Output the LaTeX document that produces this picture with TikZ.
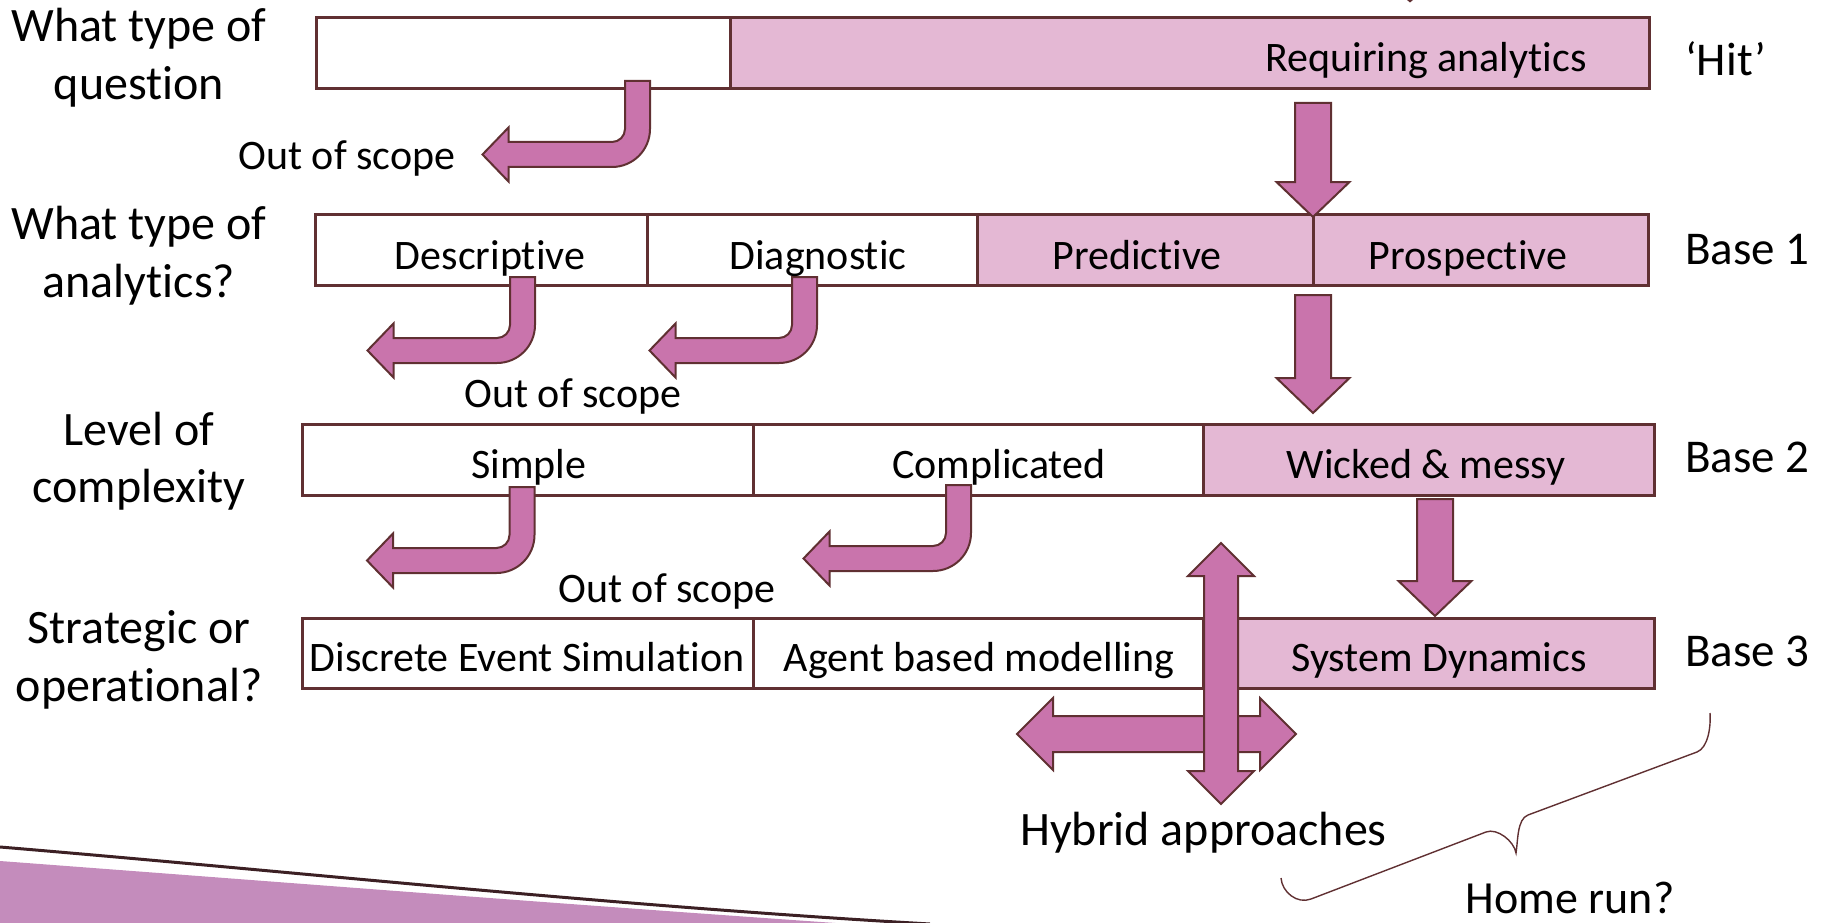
\documentclass[tikz,border=0pt]{standalone}
\usepackage{fontspec}
\setmainfont[Ligatures={NoCommon,NoRequired,NoContextual}]{Carlito}
\usetikzlibrary{calc}

\definecolor{edge}{HTML}{603032}
\definecolor{cellpink}{HTML}{E4B8D4}
\definecolor{arrowfill}{HTML}{C974AC}
\definecolor{swoosh}{HTML}{C48CBC}
\definecolor{swooshline}{HTML}{3C2024}

\tikzset{
  cell/.style={draw=edge, line width=3pt, inner sep=0pt, outer sep=0pt,
               anchor=north west, minimum height=71pt},
  hitcell/.style={cell, fill=cellpink},
  celltext/.style={font=\fontsize{42}{50}\selectfont, anchor=base, inner sep=0pt},
  sidetext/.style={font=\fontsize{48}{58}\selectfont, anchor=base, inner sep=0pt},
  basetext/.style={font=\fontsize{47}{56}\selectfont, anchor=base west, inner sep=0pt},
  blockarrow/.style={draw=edge, fill=arrowfill, line width=2pt, line join=miter},
  bracestyle/.style={draw=edge, line width=1.4pt},
  % bent "out of scope" arrow: origin at the top centre of its vertical shaft
  pics/bentleft/.style={code={
    \draw[blockarrow] (-12.5,0) -- (12.5,0) -- (12.5,48)
      .. controls (12.5,69) and (-4.5,86) .. (-25.5,86)
      -- (-129,86) -- (-129,100.5) -- (-155,73.5) -- (-129,46.5) -- (-129,61)
      -- (-25.5,61) .. controls (-18.3,61) and (-12.5,55.2) .. (-12.5,48) -- cycle;
  }},
}

% straight downward block arrow from a tail point to a tip point
\newcommand\blockdown[2]{%
  \draw[blockarrow] let \p1=#1, \p2=#2 in
    (\x1-18pt,\y1) -- (\x1+18pt,\y1) -- (\x1+18pt,\y2+35pt) -- (\x1+36.5pt,\y2+35pt)
    -- (\x1,\y2) -- (\x1-36.5pt,\y2+35pt) -- (\x1-18pt,\y2+35pt) -- cycle;}

\begin{document}
\begin{tikzpicture}[x=1pt, y=-1pt]
\useasboundingbox (0,0) rectangle (1829,923);

% ---- bottom-left decoration ----
\fill[swoosh] (0,861) .. controls (280,882) and (560,904) .. (850,924) -- (0,924) -- cycle;
\draw[swooshline, line width=3pt] (0,847) .. controls (300,872) and (600,905) .. (930,924);

% ---- rows of cells ----
\node[cell, minimum width=414pt] (qout) at (316,18) {};
\node[hitcell, minimum width=919pt] (qin) at (730,18) {};

\node[cell, minimum width=332pt] (desc) at (315,214) {};
\node[cell, minimum width=330pt] (diag) at (647,214) {};
\node[hitcell, minimum width=336pt] (pred) at (977,214) {};
\node[hitcell, minimum width=335pt] (pros) at (1313,214) {};

\node[cell, minimum width=451pt] (simp) at (302,424) {};
\node[cell, minimum width=450pt] (comp) at (753,424) {};
\node[hitcell, minimum width=451pt] (wick) at (1203,424) {};

\node[cell, minimum width=451pt, minimum height=70pt] (des) at (302,618) {};
\node[cell, minimum width=450pt, minimum height=70pt] (abm) at (753,618) {};
\node[hitcell, minimum width=451pt, minimum height=70pt] (sd) at (1203,618) {};

% small tip entering from above
\fill[edge] (1407,0) -- (1413,0) -- (1410,2.5) -- cycle;

% ---- hybrid double arrows ----
\coordinate (hybh) at (1156.5,734);
\coordinate (hybv) at (1221,673.5);
\begin{scope}[shift={(hybh)}]
  \draw[blockarrow] (-139.5,0) -- (-103.5,-36) -- (-103.5,-18) -- (103.5,-18) -- (103.5,-36)
    -- (139.5,0) -- (103.5,36) -- (103.5,18) -- (-103.5,18) -- (-103.5,36) -- cycle;
\end{scope}
\begin{scope}[shift={(hybv)}]
  \draw[blockarrow] (0,-130.5) -- (33,-97.5) -- (17,-97.5) -- (17,97.5) -- (33,97.5)
    -- (0,130.5) -- (-33,97.5) -- (-17,97.5) -- (-17,-97.5) -- (-33,-97.5) -- cycle;
\end{scope}

% ---- downward arrows along the hit path ----
\coordinate (a1tail) at ($(pros.north west |- qin.south)+(0,14)$);
\coordinate (a1tip)  at ($(pros.north west)+(0,3)$);
\coordinate (a2tail) at ($(pros.south west)+(0,10)$);
\coordinate (a2tip)  at ($(a2tail |- wick.north)+(0,-11)$);
\coordinate (a3tail) at ($(wick.south)+(6.5,4)$);
\coordinate (a3tip)  at ($(sd.north)+(6.5,-2)$);
\blockdown{(a1tail)}{(a1tip)}
\blockdown{(a2tail)}{(a2tip)}
\blockdown{(a3tail)}{(a3tip)}

% ---- out-of-scope bent arrows ----
\pic at ($(qout.south)+(114.5,-8)$) {bentleft};
\pic at ($(desc.south)+(41.5,-8)$) {bentleft};
\pic at ($(diag.south)+(-7.5,-8)$) {bentleft};
\pic at ($(simp.south)+(-5.5,-8)$) {bentleft};
\pic at ($(comp.south)+(-19.5,-10)$) {bentleft};

% ---- cell texts ----
\node[celltext, anchor=base east] (treq) at (1587,72) {Requiring analytics};
\node[celltext] (tdesc) at (490,269) {Descriptive};
\node[celltext] (tdiag) at (818,269) {Diagnostic};
\node[celltext] (tpred) at (1137,269) {Predictive};
\node[celltext] (tpros) at (1468,269) {Prospective};
\node[celltext] (tsimp) at (529,478) {Simple};
\node[celltext] (tcomp) at (999,478) {Complicated};
\node[celltext] (twick) at (1426,478) {Wicked \& messy};
\node[celltext] (tdes) at (527,671) {Discrete Event Simulation};
\node[celltext] (tabm) at (979,671) {Agent based modelling};
\node[celltext] (tsd) at (1439,671) {System Dynamics};

% ---- out-of-scope labels ----
\node[celltext] (oos1) at (347,169) {Out of scope};
\node[celltext] (oos2) at (573,407) {Out of scope};
\node[celltext] (oos3) at (667,602) {Out of scope};

% ---- row questions ----
\node[sidetext] (lq1) at (139,42) {What type of};
\node[sidetext] (lq2) at (139,100) {question};
\node[sidetext] (la1) at (139,239) {What type of};
\node[sidetext] (la2) at (139,297) {analytics?};
\node[sidetext] (lc1) at (139,445) {Level of};
\node[sidetext] (lc2) at (139,502) {complexity};
\node[sidetext] (ls1) at (139,643) {Strategic or};
\node[sidetext] (ls2) at (139,701) {operational?};

% ---- right-hand labels ----
\node[basetext] (hit) at (1685,76) {‘Hit’};
\node[basetext] (base1) at (1685,264) {Base 1};
\node[basetext] (base2) at (1685,472) {Base 2};
\node[basetext] (base3) at (1685,666) {Base 3};

% ---- hybrid and home run ----
\node[sidetext] (hyb) at (1203.5,845) {Hybrid approaches};
\node[font=\fontsize{46}{55}\selectfont, anchor=base, inner sep=0pt] (home) at (1570,913) {Home run?};

\draw[bracestyle] (1281,878) .. controls (1282,892) and (1297,904.4) .. (1311,899)
  -- (1486,832) .. controls (1497,827.7) and (1514,841) .. (1516,853)
  .. controls (1518,841) and (1517,819) .. (1528,815)
  -- (1697,752) .. controls (1708,747.7) and (1711,727) .. (1710,713);
\end{tikzpicture}
\end{document}
